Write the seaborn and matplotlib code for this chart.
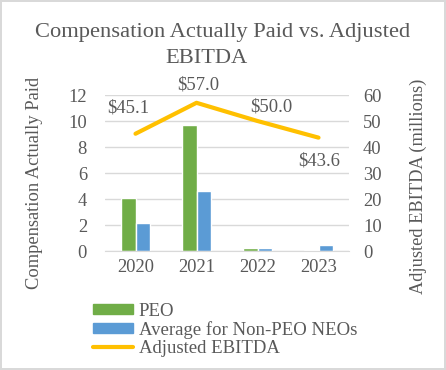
import numpy as np
import pandas as pd
import matplotlib.pyplot as plt
import seaborn as sns
from matplotlib.patches import Patch
from matplotlib.lines import Line2D

# data
years = ['2020', '2021', '2022', '2023']
peo = [4.05, 9.7, 0.25, 0.04]
non_peo_avg = [2.12, 4.6, 0.22, 0.46]
ebitda = [45.1, 57.0, 50.0, 43.6]
ebitda_labels = ['$45.1', '$57.0', '$50.0', '$43.6']

df = pd.DataFrame({
    'Year': years * 2,
    'Value': peo + non_peo_avg,
    'Series': ['PEO'] * 4 + ['Average for Non-PEO NEOs'] * 4,
})

sns.set_style('white')
plt.rcParams['font.family'] = ['Liberation Serif', 'DejaVu Serif']
grey = '#595959'
green, blue, gold = '#70AD47', '#5B9BD5', '#FFC000'

fig = plt.figure(figsize=(4.46, 3.70), dpi=100, linewidth=1.5, edgecolor='#d9d9d9')
ax = fig.add_axes([105 / 446, 1 - 251 / 370, 244 / 446, 156 / 370])

sns.barplot(data=df, x='Year', y='Value', hue='Series', ax=ax,
            palette=[green, blue], width=0.49, saturation=1, legend=False)
ax.set_ylim(0, 12)
ax.set_yticks(range(0, 13, 2))
ax.set_xlim(-0.5, 3.5)
ax.yaxis.grid(True, color='#d9d9d9', linewidth=1)
ax.set_axisbelow(True)
ax.set_xlabel('')
ax.set_ylabel('Compensation Actually Paid', fontsize=13.3, color=grey)
ax.yaxis.set_label_coords(-0.255, 0.436)
ax.tick_params(axis='y', length=0, labelsize=13.3, labelcolor=grey, pad=13)
ax.tick_params(axis='x', length=0, labelsize=13.3, labelcolor=grey, pad=6)
for s in ax.spines.values():
    s.set_visible(False)
ax.spines['bottom'].set_visible(True)
ax.spines['bottom'].set_color('#d9d9d9')

# Adjusted EBITDA on the secondary axis
ax2 = ax.twinx()
x_pos = np.arange(len(years))
sns.lineplot(x=x_pos, y=ebitda, ax=ax2, color=gold, linewidth=3)
ax2.set_ylim(0, 60)
ax2.set_yticks(range(0, 61, 10))
ax2.set_xlim(-0.5, 3.5)
ax2.set_ylabel('Adjusted EBITDA (millions)', fontsize=13.2, color=grey, rotation=90)
ax2.yaxis.set_label_coords(1.25, 0.417)
ax2.tick_params(axis='y', length=0, labelsize=13.3, labelcolor=grey, pad=10)
for s in ax2.spines.values():
    s.set_visible(False)

offsets = [(-5, 18.5), (1.4, 12.5), (10, 10), (0.7, -17)]
for xp, v, lab, off in zip(x_pos, ebitda, ebitda_labels, offsets):
    ax2.annotate(lab, (xp, v), xytext=off, textcoords='offset points',
                 ha='center', va='center', fontsize=13.4, color=grey)

# title (Excel wraps it onto two lines)
fig.text(223 / 446, 1 - 37 / 370, 'Compensation Actually Paid vs. Adjusted',
         ha='center', va='baseline', fontsize=16.2, color=grey)
fig.text(207 / 446, 1 - 63 / 370, 'EBITDA',
         ha='center', va='baseline', fontsize=16.2, color=grey)

handles = [Patch(color=green), Patch(color=blue),
           Line2D([0], [0], color=gold, linewidth=3)]
labels = ['PEO', 'Average for Non-PEO NEOs', 'Adjusted EBITDA']
fig.legend(handles, labels, loc='upper left', bbox_to_anchor=(93 / 446, 1 - 303 / 370),
           frameon=False, fontsize=13.5, labelcolor=grey, handlelength=2.13,
           handleheight=0.45, handletextpad=0.32, labelspacing=0.05, borderpad=0,
           borderaxespad=0)

fig.savefig('out.png', dpi=100)
